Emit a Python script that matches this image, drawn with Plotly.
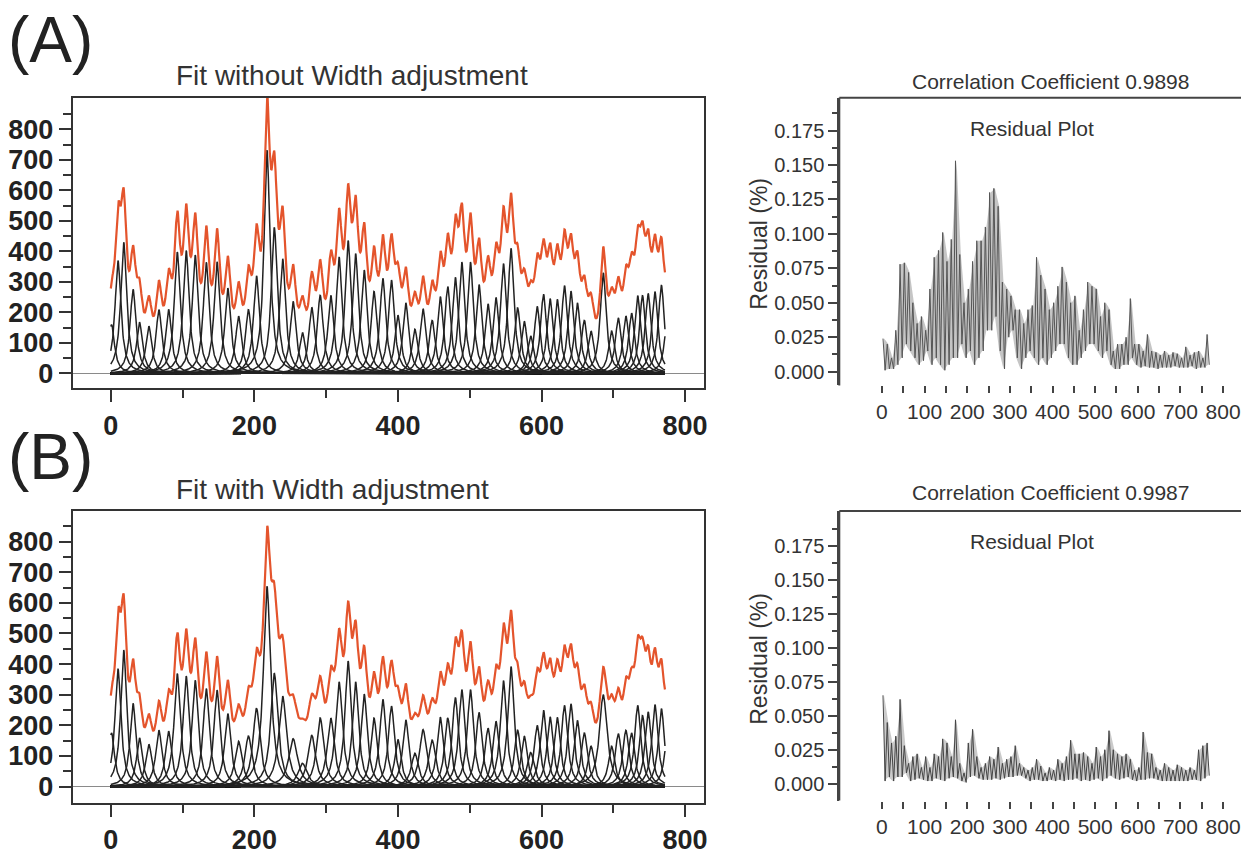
import numpy as np
import plotly.graph_objects as go

# ---------------- data ----------------
# Peak centres (channel) shared by both fits
peak_pos = [1, 10, 18, 31, 40, 53, 67, 80.5, 92.6, 105,
            117.6, 133, 148, 163, 178, 191.7, 203, 217.6, 227.8, 239.4,
            254, 267, 280, 291.7, 306.5, 318, 330.6, 341, 353, 366.7,
            379, 391, 400, 411, 423.6, 435, 447.7, 459, 469.4, 480,
            489, 501, 513, 525.5, 536.6, 547, 557.5, 566.7, 576, 585,
            594, 602.8, 612, 622, 632, 641, 650, 659.7, 669, 686,
            697.7, 707, 717.6, 725.5, 734, 740.7, 748.6, 758, 767, 776]

# (A) fit without width adjustment: heights, one common half-width
peak_h_a = [160, 370, 430, 276, 168, 155, 209, 210, 398, 403,
            388, 364, 366, 280, 188, 209, 320, 732, 479, 376,
            236, 134, 217, 256, 256, 382, 436, 393, 339, 269,
            312, 306, 191, 231, 145, 212, 174, 252, 285, 315,
            365, 365, 291, 228, 249, 360, 410, 215, 171, 123,
            220, 260, 245, 243, 288, 270, 231, 174, 139, 330,
            139, 182, 188, 198, 255, 255, 262, 268, 290, 200]
peak_w_a = 5.0

# (B) fit with width adjustment: heights and individual half-widths
peak_h_b = [175, 385, 446, 272, 159, 138, 184, 181, 369, 361,
            347, 320, 315, 238, 148, 165, 256, 654, 369, 296,
            156, 76, 167, 224, 224, 342, 410, 342, 302, 224,
            285, 263, 154, 218, 109, 186, 152, 227, 224, 291,
            317, 317, 242, 191, 213, 346, 392, 184, 165, 111,
            200, 250, 228, 226, 265, 270, 216, 175, 132, 300,
            132, 173, 184, 175, 265, 232, 244, 268, 255, 185]
peak_w_b = [5.0, 5.0, 5.0, 5.0, 5.0, 5.3, 5.3, 5.3, 5.3, 5.3,
            5.3, 5.3, 5.3, 5.3, 6.0, 6.0, 6.0, 6.0, 6.0, 6.5,
            7.5, 7.5, 6.5, 6.0, 6.0, 5.8, 5.3, 5.3, 5.3, 5.3,
            5.3, 5.3, 5.3, 5.3, 6.0, 6.0, 6.0, 5.3, 5.3, 5.3,
            5.3, 5.3, 5.3, 5.3, 5.3, 5.3, 5.3, 5.3, 5.3, 6.0,
            5.3, 5.3, 5.3, 5.3, 5.3, 5.3, 5.3, 5.3, 5.3, 6.5,
            5.3, 5.3, 5.3, 5.3, 5.2, 5.2, 5.2, 5.2, 5.2, 5.2]

channel_end = 772

# Residual envelopes, 10-channel bins starting at 0 (high / low value in each bin)
resid_bin_start = list(range(0, 770, 10))
resid_hi_a = [0.024, 0.020, 0.010, 0.030, 0.078, 0.079, 0.072, 0.050, 0.035, 0.040,
              0.030, 0.060, 0.083, 0.088, 0.101, 0.080, 0.096, 0.153, 0.085, 0.050,
              0.060, 0.080, 0.095, 0.095, 0.105, 0.130, 0.133, 0.120, 0.065, 0.060,
              0.055, 0.045, 0.045, 0.035, 0.045, 0.048, 0.083, 0.070, 0.060, 0.045,
              0.050, 0.062, 0.076, 0.065, 0.050, 0.055, 0.030, 0.045, 0.065, 0.062,
              0.060, 0.040, 0.050, 0.045, 0.015, 0.020, 0.020, 0.025, 0.053, 0.020,
              0.020, 0.015, 0.027, 0.015, 0.014, 0.012, 0.015, 0.012, 0.014, 0.013,
              0.010, 0.018, 0.012, 0.014, 0.015, 0.010, 0.027]
resid_lo_a = [0.001, 0.002, 0.002, 0.005, 0.010, 0.020, 0.015, 0.010, 0.005, 0.008,
              0.015, 0.005, 0.010, 0.005, 0.001, 0.005, 0.010, 0.010, 0.020, 0.010,
              0.015, 0.005, 0.010, 0.015, 0.030, 0.030, 0.040, 0.015, 0.002, 0.025,
              0.030, 0.010, 0.002, 0.010, 0.015, 0.010, 0.005, 0.010, 0.005, 0.010,
              0.015, 0.020, 0.020, 0.010, 0.005, 0.005, 0.010, 0.015, 0.020, 0.020,
              0.015, 0.010, 0.015, 0.005, 0.002, 0.002, 0.005, 0.005, 0.010, 0.005,
              0.003, 0.004, 0.003, 0.003, 0.002, 0.003, 0.003, 0.003, 0.004, 0.003,
              0.003, 0.003, 0.004, 0.002, 0.003, 0.003, 0.005]
resid_hi_b = [0.065, 0.045, 0.030, 0.035, 0.062, 0.028, 0.015, 0.020, 0.022, 0.012,
              0.020, 0.012, 0.022, 0.020, 0.033, 0.030, 0.020, 0.047, 0.015, 0.008,
              0.030, 0.040, 0.020, 0.012, 0.015, 0.020, 0.018, 0.027, 0.015, 0.018,
              0.020, 0.028, 0.015, 0.012, 0.010, 0.012, 0.018, 0.013, 0.008, 0.012,
              0.010, 0.018, 0.015, 0.020, 0.032, 0.022, 0.022, 0.023, 0.020, 0.015,
              0.027, 0.020, 0.025, 0.039, 0.025, 0.022, 0.020, 0.022, 0.018, 0.010,
              0.012, 0.038, 0.023, 0.022, 0.012, 0.010, 0.015, 0.012, 0.010, 0.014,
              0.012, 0.010, 0.012, 0.010, 0.025, 0.028, 0.030]
resid_lo_b = [0.002, 0.005, 0.002, 0.005, 0.005, 0.008, 0.002, 0.003, 0.004, 0.003,
              0.002, 0.002, 0.004, 0.003, 0.002, 0.004, 0.005, 0.004, 0.002, 0.001,
              0.005, 0.006, 0.004, 0.003, 0.003, 0.003, 0.004, 0.003, 0.004, 0.005,
              0.005, 0.006, 0.006, 0.004, 0.002, 0.003, 0.003, 0.002, 0.002, 0.003,
              0.002, 0.003, 0.002, 0.003, 0.003, 0.004, 0.002, 0.003, 0.002, 0.003,
              0.004, 0.002, 0.004, 0.006, 0.004, 0.003, 0.004, 0.005, 0.003, 0.002,
              0.003, 0.003, 0.004, 0.004, 0.003, 0.002, 0.002, 0.002, 0.002, 0.002,
              0.002, 0.002, 0.003, 0.003, 0.002, 0.004, 0.006]

# ---------------- build traces ----------------
FONT = "Liberation Sans, Arial, sans-serif"
x_ch = np.arange(0, channel_end + 0.25, 0.5)


def lorentz(c, h, w):
    return h / (1.0 + ((x_ch - c) / w) ** 2)


def peak_traces(heights, widths, xa, ya):
    xs, ys = [], []
    total = np.zeros_like(x_ch)
    for c, h, w in zip(peak_pos, heights, widths):
        y = lorentz(c, h, w)
        total += y
        xs.extend(x_ch.tolist() + [None])
        ys.extend(y.tolist() + [None])
    black = go.Scatter(x=xs, y=ys, mode="lines", xaxis=xa, yaxis=ya,
                       line=dict(color="#222222", width=1.5), hoverinfo="skip",
                       showlegend=False)
    red = go.Scatter(x=x_ch, y=total, mode="lines", xaxis=xa, yaxis=ya,
                     line=dict(color="#e4542c", width=2.2), showlegend=False)
    return [black, red]


def resid_traces(hi, lo, xa, ya, band_color, line_color):
    xs, ys = [], []
    for b, h, l in zip(resid_bin_start, hi, lo):
        xs += [b + 2.5, b + 7.5]
        ys += [h, l]
    bx = [b + 5 for b in resid_bin_start]
    band = go.Scatter(x=bx + bx[::-1], y=list(hi) + list(lo)[::-1], mode="lines",
                      fill="toself", fillcolor=band_color, line=dict(width=0),
                      xaxis=xa, yaxis=ya, hoverinfo="skip", showlegend=False)
    line = go.Scatter(x=xs, y=ys, mode="lines", xaxis=xa, yaxis=ya,
                      line=dict(color=line_color, width=1), showlegend=False)
    return [band, line]


traces = []
traces += peak_traces(peak_h_a, [peak_w_a] * len(peak_pos), "x", "y")
traces += resid_traces(resid_hi_a, resid_lo_a, "x2", "y2", "rgba(150,150,150,0.55)", "#555")
traces += peak_traces(peak_h_b, peak_w_b, "x3", "y3")
traces += resid_traces(resid_hi_b, resid_lo_b, "x4", "y4", "rgba(150,150,150,0.5)", "#444")

fig = go.Figure(traces)

W, H = 1245, 855


def px(v):
    return v / W


def py(v):
    return 1 - v / H


left_x = dict(range=[-53, 826], showgrid=False, zeroline=False, showline=True,
              mirror=True, linecolor="#333", linewidth=2,
              ticks="outside", ticklen=12, tickwidth=2, tickcolor="#333",
              tickmode="array", tickvals=[0, 200, 400, 600, 800],
              minor=dict(tickmode="array", tickvals=[100, 300, 500, 700],
                         ticks="outside", ticklen=8, tickwidth=2, tickcolor="#333"),
              tickfont=dict(family=FONT, size=27, color="#222", weight="bold"))
left_y = dict(showgrid=False, zeroline=True, zerolinecolor="#8a8a8a", zerolinewidth=1,
              showline=True, mirror=True, linecolor="#333", linewidth=2,
              ticks="outside", ticklen=12, tickwidth=2, tickcolor="#333",
              tickmode="array", tickvals=list(range(0, 801, 100)),
              minor=dict(tickmode="array", tickvals=list(range(50, 901, 100)),
                         ticks="outside", ticklen=8, tickwidth=2, tickcolor="#333"),
              tickfont=dict(family=FONT, size=27, color="#222", weight="bold"))

right_x = dict(range=[-100, 842], showgrid=False, zeroline=False, showline=False,
               ticks="outside", ticklen=7, tickwidth=1.5, tickcolor="#444",
               tickmode="array", tickvals=list(range(0, 801, 100)),
               minor=dict(tickmode="array", tickvals=list(range(50, 801, 100)),
                          ticks="outside", ticklen=7, tickwidth=1.5, tickcolor="#444"),
               tickfont=dict(family=FONT, size=21, color="#333"))
right_y = dict(showgrid=False, zeroline=False, showline=True, linecolor="#444", linewidth=2,
               ticks="outside", ticklen=9, tickwidth=1.5, tickcolor="#444",
               tickmode="array", tickvals=[0, 0.025, 0.05, 0.075, 0.1, 0.125, 0.15, 0.175],
               ticktext=["0.000", "0.025", "0.050", "0.075", "0.100", "0.125", "0.150", "0.175"],
               minor=dict(tickmode="array",
                          tickvals=[0.0125, 0.0375, 0.0625, 0.0875, 0.1125, 0.1375, 0.1625, 0.1875],
                          ticks="outside", ticklen=5, tickwidth=1.5, tickcolor="#444"),
               tickfont=dict(family=FONT, size=20, color="#333"))

fig.update_layout(
    width=W, height=H, autosize=False,
    margin=dict(l=0, r=0, t=0, b=0),
    paper_bgcolor="white", plot_bgcolor="white",
    showlegend=False,
    xaxis=dict(left_x, domain=[px(73), px(706)], anchor="y"),
    yaxis=dict(left_y, domain=[py(393), py(99)], range=[-49, 903], anchor="x"),
    xaxis2=dict(right_x, domain=[px(842), 1.0], anchor="y2"),
    yaxis2=dict(right_y, domain=[py(390), py(99)], range=[-0.0100, 0.1987], anchor="x2"),
    xaxis3=dict(left_x, domain=[px(73), px(706)], anchor="y3"),
    yaxis3=dict(left_y, domain=[py(812), py(517)], range=[-52, 900], anchor="x3"),
    xaxis4=dict(right_x, domain=[px(842), 1.0], anchor="y4"),
    yaxis4=dict(right_y, domain=[py(810), py(517)], range=[-0.0123, 0.2004], anchor="x4"),
)

# top and left border lines of the residual panels
for xa, ya in (("x2", "y2"), ("x4", "y4")):
    fig.add_shape(type="line", xref=f"{xa} domain", yref=f"{ya} domain",
                  x0=0, x1=1, y0=1, y1=1, line=dict(color="#444", width=2))
    fig.add_shape(type="line", xref=f"{xa} domain", yref=f"{ya} domain",
                  x0=0, x1=0, y0=0, y1=1, line=dict(color="#444", width=2))


def ann(text, x, y, size, xanchor="center", color="#333", angle=0):
    fig.add_annotation(text=text, x=x, y=y, xref="paper", yref="paper",
                       xanchor=xanchor, yanchor="middle", showarrow=False,
                       textangle=angle, font=dict(family=FONT, size=size, color=color))


ann("(A)", px(6), py(40), 64, xanchor="left", color="#222")
ann("(B)", px(6), py(462), 64, xanchor="left", color="#222")
ann("Fit without Width adjustment", px(175), py(76), 28, xanchor="left")
ann("Fit with Width adjustment", px(175), py(495), 28, xanchor="left")
ann("Correlation Coefficient 0.9898", px(1054), py(82), 21)
ann("Correlation Coefficient 0.9987", px(1054), py(498), 21)
ann("Residual Plot", px(1035), py(130), 21)
ann("Residual Plot", px(1035), py(548), 21)
ann("Residual (%)", px(762), py(247), 23, angle=-90)
ann("Residual (%)", px(762), py(667), 23, angle=-90)

fig.write_html("out.html")
